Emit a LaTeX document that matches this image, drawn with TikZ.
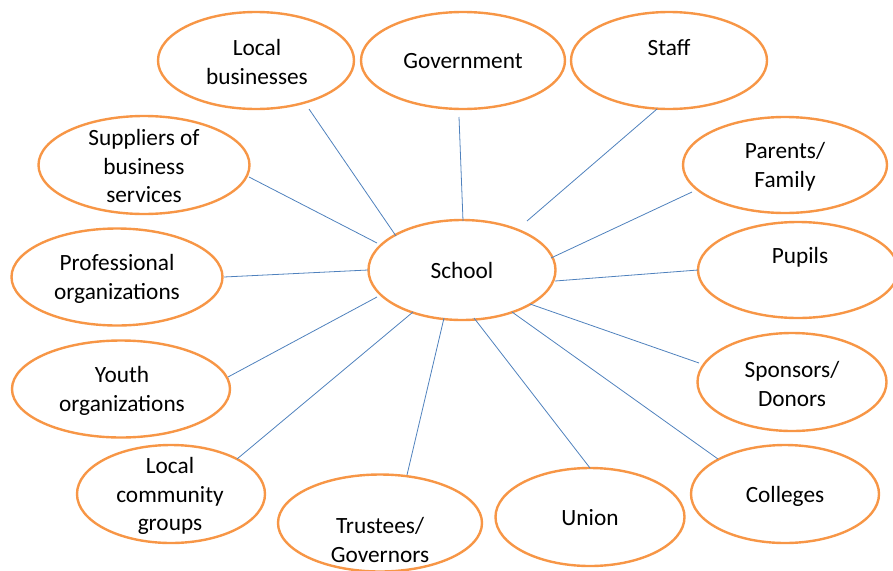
\documentclass[tikz,border=0pt]{standalone}
\usepackage{fontspec}
\setmainfont{Carlito}
\usetikzlibrary{shapes.geometric,calc}
\definecolor{ovalorange}{RGB}{247,150,70}
\definecolor{linkblue}{RGB}{79,129,189}
\begin{document}
\begin{tikzpicture}[x=1pt,y=-1pt,
  oval/.style={ellipse, draw=ovalorange, line width=2.4pt, inner sep=0pt},
  lbl/.style={align=center, font=\fontsize{23.3}{28.5}\selectfont, text=black, inner sep=0pt},
  link/.style={draw=linkblue, line width=0.8pt}]
\useasboundingbox (0,0) rectangle (893,570);
% ovals
\node[oval, minimum width=196pt, minimum height=97pt] (lb) at (256,60.5) {};
\node[oval, minimum width=204pt, minimum height=97pt] (gov) at (463,60.5) {};
\node[oval, minimum width=196pt, minimum height=97pt] (staff) at (669,60.5) {};
\node[oval, minimum width=211pt, minimum height=98pt] (sup) at (144,165) {};
\node[oval, minimum width=204pt, minimum height=96pt] (par) at (785,165) {};
\node[oval, minimum width=211pt, minimum height=97pt] (prof) at (117,277) {};
\node[oval, minimum width=200pt, minimum height=96pt] (pup) at (798,270) {};
\node[oval, minimum width=218pt, minimum height=97pt] (youth) at (121,389) {};
\node[oval, minimum width=189pt, minimum height=98pt] (spon) at (792,382) {};
\node[oval, minimum width=188pt, minimum height=98pt] (lc) at (171,494) {};
\node[oval, minimum width=204pt, minimum height=97pt] (trus) at (380,523) {};
\node[oval, minimum width=189pt, minimum height=98pt] (union) at (590,517) {};
\node[oval, minimum width=188pt, minimum height=98pt] (coll) at (785,494) {};
\node[oval, minimum width=187pt, minimum height=100pt] (school) at (462,270) {};
% labels
\node[lbl] (tlb) at (257,62) {Local\\businesses};
\node[lbl] (tgov) at (463,61) {Government};
\node[lbl] (tstaff) at (669,48) {Staff};
\node[lbl] (tsup) at (144,166) {Suppliers of\\business\\services};
\node[lbl] (tpar) at (785,167) {Parents/\\Family};
\node[lbl] (tprof) at (117,279) {Professional\\organizations};
\node[lbl] (tpup) at (800,257) {Pupils};
\node[lbl] (tyouth) at (122,391) {Youth\\organizations};
\node[lbl] (tspon) at (792,384) {Sponsors/\\Donors};
\node[lbl] (tlc) at (170,496) {Local\\community\\groups};
\node[lbl] (ttrus) at (380,540) {Trustees/\\Governors};
\node[lbl] (tunion) at (590,518) {Union};
\node[lbl] (tcoll) at (785,496) {Colleges};
\node[lbl] (tschool) at (462,270) {School};
% links
\draw[link] ($(lb)+(53,48.5)$) -- ($(school)+(-66,-34)$);
\draw[link] ($(gov)+(-4,56.5)$) -- ($(school)+(1,-49)$);
\draw[link] ($(staff)+(-12,48.5)$) -- ($(school)+(65,-49)$);
\draw[link] ($(sup)+(105,12)$) -- ($(school)+(-85,-27)$);
\draw[link] ($(par)+(-93,27)$) -- ($(school)+(89,-12)$);
\draw[link] ($(prof)+(107,0)$) -- ($(school)+(-94,0)$);
\draw[link] ($(pup)+(-100,0)$) -- ($(school)+(93,11)$);
\draw[link] ($(youth)+(107,-12)$) -- ($(school)+(-85,27)$);
\draw[link] ($(spon)+(-93,-19)$) -- ($(school)+(68,34)$);
\draw[link] ($(lc)+(66,-35)$) -- ($(school)+(-49,42)$);
\draw[link] ($(trus)+(27,-48)$) -- ($(school)+(-18,48)$);
\draw[link] ($(union)+(0,-49)$) -- ($(school)+(12,48)$);
\draw[link] ($(coll)+(-67,-35)$) -- ($(school)+(50,42)$);
\end{tikzpicture}
\end{document}
